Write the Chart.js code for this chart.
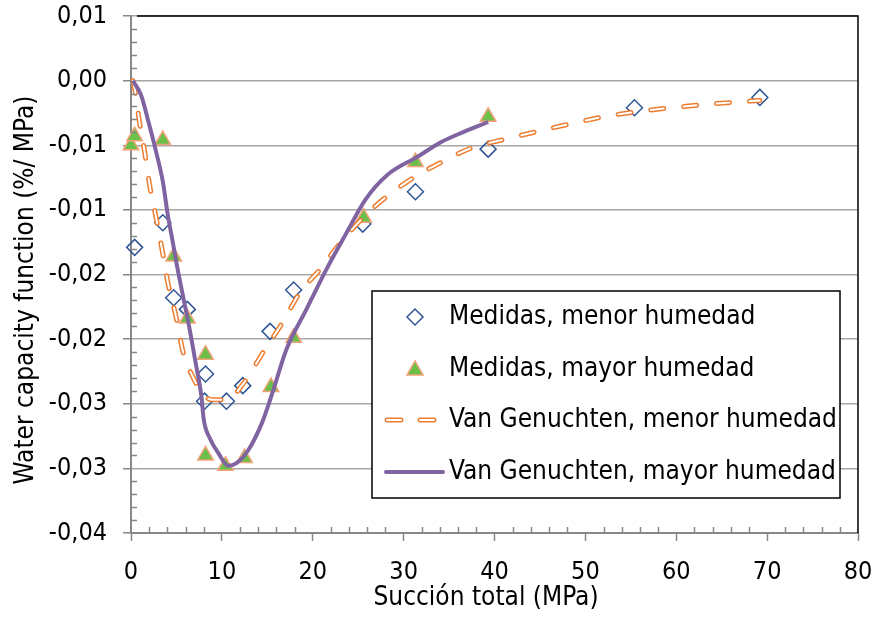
<!DOCTYPE html>
<html>
<head>
<meta charset="utf-8">
<script src="https://cdn.jsdelivr.net/npm/chart.js@4.4.1/dist/chart.umd.min.js"></script>
<style>
  html, body { margin: 0; padding: 0; background: #fff; }
  canvas { display: block; }
</style>
</head>
<body>
<canvas id="chart" width="874" height="617"></canvas>
<script>
// Water capacity function vs total suction
const FONT = '"DejaVu Sans Condensed", "DejaVu Sans", sans-serif';
const BLUE = '#2F5597', GREEN = '#6CC04A', SALMON = '#F4A27A', ORANGE = '#ED7D31', PURPLE = '#8064A2';

const NAMES = ['Medidas, menor humedad', 'Medidas, mayor humedad', 'Van Genuchten, menor humedad', 'Van Genuchten, mayor humedad'];
const X_TITLE = 'Succión total (MPa)';
const Y_TITLE = 'Water capacity function (%/ MPa)';
const Y_TICK_LABELS = ['0,01', '0,00', '-0,01', '-0,01', '-0,02', '-0,02', '-0,03', '-0,03', '-0,04']; // top → bottom

// measured, lower moisture (diamonds)
const MEN_X = [0.4, 3.5, 4.7, 6.2, 8.2, 8.1, 10.5, 12.3, 15.3, 17.9, 25.5, 31.3, 39.3, 55.4, 69.2];
const MEN_Y = [-0.0129, -0.0110, -0.0168, -0.0177, -0.0227, -0.0248, -0.0248, -0.0236, -0.0194, -0.0162, -0.0111, -0.0086, -0.0053, -0.0021, -0.0013];

// measured, higher moisture (triangles)
const MAY_X = [0.0, 0.4, 3.5, 4.7, 6.2, 8.2, 8.2, 10.4, 12.5, 15.4, 17.9, 25.6, 31.3, 39.3];
const MAY_Y = [-0.0050, -0.0043, -0.0046, -0.0136, -0.0184, -0.0212, -0.0290, -0.0298, -0.0292, -0.0237, -0.0199, -0.0106, -0.0063, -0.0028];

// Van Genuchten fit, lower moisture
const VGMEN_X = [0.2, 0.4, 0.93, 1.5, 2.1, 2.76, 3.5, 4.08, 5.0, 5.73, 7.0, 7.8, 9.0, 10.5, 12.5, 14.55, 16.6, 18.6, 20.8, 23.0, 25.4, 27.9, 31.1, 34.2, 37.5, 41.4, 44.9, 48.6, 52.0, 55.7, 59.4, 63.1, 66.7, 69.2];
const VGMEN_Y = [0, -0.0006, -0.0032, -0.0055, -0.0083, -0.0106, -0.0134, -0.0157, -0.0184, -0.0210, -0.0232, -0.0242, -0.0247, -0.0247, -0.0233, -0.0210, -0.0188, -0.0164, -0.0146, -0.0126, -0.0107, -0.0091, -0.0075, -0.0063, -0.0052, -0.0045, -0.0039, -0.0033, -0.0028, -0.0024, -0.0021, -0.00185, -0.00166, -0.00154];

// Van Genuchten fit, higher moisture
const VGMAY_X = [0.2, 1.1, 2.0, 2.76, 3.5, 4.05, 4.6, 5.0, 5.73, 6.47, 7.13, 7.76, 8.0, 8.7, 9.6, 10.7, 11.6, 12.9, 14.4, 15.5, 17.1, 19.3, 21.5, 23.7, 25.8, 28.2, 31.5, 34.0, 36.5, 39.3];
const VGMAY_Y = [0, -0.0011, -0.0034, -0.0055, -0.0078, -0.0104, -0.0125, -0.0141, -0.0167, -0.0193, -0.0219, -0.0245, -0.0262, -0.0277, -0.0288, -0.0298, -0.0296, -0.0286, -0.0265, -0.0243, -0.0208, -0.0177, -0.0146, -0.0118, -0.0092, -0.0073, -0.0059, -0.0048, -0.0040, -0.0032];

const pts = (xs, ys) => xs.map((x, i) => ({x, y: ys[i]}));

// black frame on top / right like the spreadsheet plot area
const frame = {
  id: 'frame',
  afterDraw(c) {
    const {ctx, chartArea: a} = c;
    ctx.save();
    ctx.strokeStyle = '#000'; ctx.lineWidth = 1.5;
    ctx.beginPath();
    ctx.moveTo(a.left + 6, a.top); ctx.lineTo(a.right, a.top); ctx.lineTo(a.right, a.bottom);
    ctx.stroke();
    ctx.restore();
  }
};

// minor ticks pointing inward
const minorTicks = {
  id: 'minorTicks',
  afterDraw(c) {
    const {ctx, chartArea: a, scales: {x, y}} = c;
    ctx.save();
    ctx.strokeStyle = '#888'; ctx.lineWidth = 1.5;
    ctx.beginPath();
    for (let i = 0; i <= 40; i++) {
      if (i % 5 === 0) continue;
      const py = Math.round(y.getPixelForValue(-0.035 + i * 0.001)) + 0.5;
      ctx.moveTo(a.left, py); ctx.lineTo(a.left + 6, py);
    }
    for (let i = 0; i <= 40; i++) {
      if (i % 5 === 0) continue;
      const px = Math.round(x.getPixelForValue(i * 2)) + 0.5;
      ctx.moveTo(px, a.bottom); ctx.lineTo(px, a.bottom - 6);
    }
    ctx.stroke();
    ctx.restore();
  }
};

// axis titles (the original is not centred on the plot area)
const axisTitles = {
  id: 'axisTitles',
  afterDraw(c) {
    const ctx = c.ctx;
    ctx.save();
    ctx.fillStyle = '#000';
    ctx.font = '26px ' + FONT;
    ctx.textAlign = 'center';
    ctx.textBaseline = 'alphabetic';
    ctx.fillText(X_TITLE, 486, 605);
    ctx.translate(33, 290);
    ctx.rotate(-Math.PI / 2);
    ctx.fillText(Y_TITLE, 0, 0);
    ctx.restore();
  }
};

// legend box inside the plot area
const legendBox = {
  id: 'legendBox',
  afterDraw(c) {
    const ctx = c.ctx;
    const L = 372, T = 291, W = 468, H = 207;
    ctx.save();
    ctx.fillStyle = '#fff'; ctx.fillRect(L, T, W, H);
    ctx.strokeStyle = '#000'; ctx.lineWidth = 1.5; ctx.strokeRect(L, T, W, H);
    const rows = [317, 369, 420, 472];
    const mx = 415;
    // diamond
    ctx.beginPath();
    ctx.moveTo(mx, rows[0] - 8); ctx.lineTo(mx + 8, rows[0]); ctx.lineTo(mx, rows[0] + 8); ctx.lineTo(mx - 8, rows[0]); ctx.closePath();
    ctx.strokeStyle = BLUE; ctx.lineWidth = 1.5; ctx.stroke();
    // triangle
    ctx.beginPath();
    ctx.moveTo(mx, rows[1] - 8); ctx.lineTo(mx + 8, rows[1] + 6); ctx.lineTo(mx - 8, rows[1] + 6); ctx.closePath();
    ctx.fillStyle = GREEN; ctx.fill(); ctx.strokeStyle = SALMON; ctx.stroke();
    // dashed sample
    ctx.lineCap = 'round';
    [[387, 401], [420, 434]].forEach(([a, b]) => {
      ctx.beginPath(); ctx.moveTo(a, rows[2]); ctx.lineTo(b, rows[2]);
      ctx.strokeStyle = ORANGE; ctx.lineWidth = 5; ctx.stroke();
      ctx.strokeStyle = '#fff'; ctx.lineWidth = 2; ctx.stroke();
    });
    // solid sample
    ctx.beginPath(); ctx.moveTo(386, rows[3]); ctx.lineTo(443, rows[3]);
    ctx.strokeStyle = PURPLE; ctx.lineWidth = 4; ctx.stroke();
    ctx.fillStyle = '#000';
    ctx.font = '26px ' + FONT;
    ctx.textBaseline = 'middle';
    NAMES.forEach((n, i) => ctx.fillText(n, 449, rows[i]));
    ctx.restore();
  }
};

const tickFont = {family: FONT, size: 25};

new Chart(document.getElementById('chart'), {
  type: 'scatter',
  data: {
    datasets: [
      { label: NAMES[3], data: pts(VGMAY_X, VGMAY_Y), showLine: true, borderColor: PURPLE, borderWidth: 4,
        pointRadius: 0, cubicInterpolationMode: 'monotone', order: 0 },
      { label: NAMES[2] + ' (inner)', data: pts(VGMEN_X, VGMEN_Y), showLine: true, borderColor: '#fff', borderWidth: 2,
        borderDash: [13, 20], borderCapStyle: 'round', pointRadius: 0, cubicInterpolationMode: 'monotone', order: 1 },
      { label: NAMES[2], data: pts(VGMEN_X, VGMEN_Y), showLine: true, borderColor: ORANGE, borderWidth: 5,
        borderDash: [13, 20], borderCapStyle: 'round', pointRadius: 0, cubicInterpolationMode: 'monotone', order: 2 },
      { label: NAMES[1], data: pts(MAY_X, MAY_Y), pointStyle: 'triangle', pointRadius: 9,
        backgroundColor: GREEN, borderColor: SALMON, borderWidth: 1.5, order: 3, clip: false },
      { label: NAMES[0], data: pts(MEN_X, MEN_Y), pointStyle: 'rectRot', pointRadius: 8,
        backgroundColor: 'rgba(0,0,0,0)', borderColor: BLUE, borderWidth: 1.5, order: 4, clip: false },
    ]
  },
  options: {
    responsive: false, animation: false, devicePixelRatio: 1,
    layout: { padding: { left: 0, top: 16, right: 16, bottom: 0 } },
    plugins: { legend: { display: false }, tooltip: { enabled: false } },
    scales: {
      x: {
        type: 'linear', min: 0, max: 80,
        ticks: { stepSize: 10, font: tickFont, color: '#000', padding: 16 },
        grid: { drawOnChartArea: false, tickLength: 8, tickColor: '#888', tickWidth: 1.5 },
        border: { color: '#888', width: 2 },
        afterFit: s => { s.height = 84; s.paddingLeft = 0; s.paddingRight = 0; }
      },
      y: {
        min: -0.035, max: 0.005,
        ticks: { stepSize: 0.005, font: tickFont, color: '#000', padding: 16,
          callback: (v, i, t) => Y_TICK_LABELS[t.length - 1 - i] },
        grid: { color: '#a6a6a6', lineWidth: 1.5, tickLength: 8, tickColor: '#888', tickWidth: 1.5 },
        border: { color: '#888', width: 2 },
        afterFit: s => { s.width = 131; s.paddingTop = 0; s.paddingBottom = 0; }
      }
    }
  },
  plugins: [frame, minorTicks, axisTitles, legendBox]
});
</script>
</body>
</html>
